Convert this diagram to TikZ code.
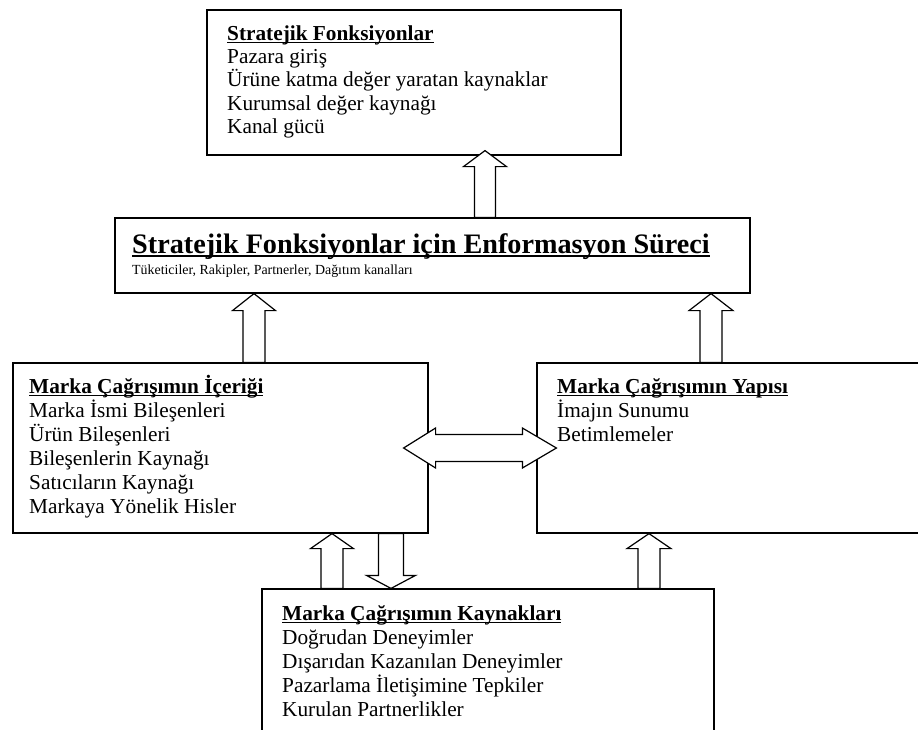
\documentclass[tikz,border=0pt]{standalone}
\usepackage{fontspec}
\setmainfont{Liberation Serif}
\usetikzlibrary{calc}
\newsavebox\ulbox
\newcommand\ulhead[3]{\sbox\ulbox{\textbf{#1}}\rlap{\rule[-#2]{\wd\ulbox}{#3}}\usebox\ulbox}
\newcommand\firstline{\rule{0pt}{20pt}}
\newcommand\blkup[5]{\draw[blk] ($(#2)+(-#3,0)$) -- ($(#1)+(-#3,#5)$) -- ($(#1)+(-#4,#5)$) -- (#1) -- ($(#1)+(#4,#5)$) -- ($(#1)+(#3,#5)$) -- ($(#2)+(#3,0)$) -- cycle;}
\newcommand\blkdown[5]{\draw[blk] ($(#2)+(-#3,0)$) -- ($(#1)+(-#3,-#5)$) -- ($(#1)+(-#4,-#5)$) -- (#1) -- ($(#1)+(#4,-#5)$) -- ($(#1)+(#3,-#5)$) -- ($(#2)+(#3,0)$) -- cycle;}
\begin{document}
\begin{tikzpicture}[x=1pt,y=-1pt,
  box/.style={draw, line width=1.2pt, fill=white, inner sep=0pt},
  blk/.style={draw, line width=1.2pt, fill=white, line join=miter},
  txt/.style={anchor=north west, inner sep=0pt, align=left, font=\fontsize{21.3}{24}\selectfont},
  line1/.style={anchor=base west, inner sep=0pt}]
\clip (0,0) rectangle (918,729);
\fill[white] (0,0) rectangle (918,729);
% boxes
\node[box, minimum width=414pt, minimum height=145pt] (topbox) at (414,82.5) {};
\node[box, minimum width=635pt, minimum height=75pt] (midbox) at (432.5,255.5) {};
\node[box, minimum width=415pt, minimum height=170pt] (lbox) at (220.5,448) {};
\node[box, minimum width=393pt, minimum height=170pt] (rbox) at (733.5,448) {};
\node[box, minimum width=452pt, minimum height=156pt] (botbox) at (488,667) {};
% arrow axes
\coordinate (ax1) at (485,0);
\coordinate (ax2) at (254,0);
\coordinate (ax3) at (711,0);
\coordinate (ax4) at (332,0);
\coordinate (ax5) at (391,0);
\coordinate (ax6) at (649,0);
\coordinate (t1) at ($(topbox.south -| ax1)+(0,-5)$);
\coordinate (b1) at (midbox.north -| ax1);
\coordinate (t2) at (midbox.south -| ax2);
\coordinate (b2) at (lbox.north -| ax2);
\coordinate (t3) at (midbox.south -| ax3);
\coordinate (b3) at (rbox.north -| ax3);
\coordinate (t4) at (lbox.south -| ax4);
\coordinate (b4) at (botbox.north -| ax4);
\coordinate (t5) at (botbox.north -| ax5);
\coordinate (b5) at (lbox.south -| ax5);
\coordinate (t6) at (rbox.south -| ax6);
\coordinate (b6) at (botbox.north -| ax6);
\coordinate (dl) at ($(lbox.east)+(-25,0)$);
\coordinate (dr) at ($(rbox.west)+(20,0)$);
% block arrows
\blkup{t1}{b1}{10.5}{21.5}{16}
\blkup{t2}{b2}{11}{21.5}{17}
\blkup{t3}{b3}{11}{22}{17}
\blkup{t4}{b4}{11}{21.5}{15}
\blkdown{t5}{b5}{12.5}{24.5}{13}
\blkup{t6}{b6}{11}{22}{15}
\draw[blk] (dl) -- ++(32,-20) -- ++(0,6.5) -- ($(dr)+(-34,-13.5)$) -- ++(0,-6.5) -- (dr) -- ++(-34,20) -- ++(0,-6.5) -- ($(dl)+(32,13.5)$) -- ++(0,6.5) -- cycle;
% texts
\node[txt, font=\fontsize{21.3}{23.3}\selectfont] (toptext) at (227,20) {\firstline\ulhead{Stratejik Fonksiyonlar}{3pt}{1.3pt}\\Pazara giriş\\Ürüne katma değer yaratan kaynaklar\\Kurumsal değer kaynağı\\Kanal gücü};
\node[line1, font=\fontsize{28.2}{31}\selectfont] (midtitle) at (132,253) {\ulhead{Stratejik Fonksiyonlar için Enformasyon Süreci}{4pt}{2pt}};
\node[line1, font=\fontsize{13.9}{16}\selectfont] (midsub) at (132,274) {Tüketiciler, Rakipler, Partnerler, Dağıtım kanalları};
\node[txt] (ltext) at (29,373) {\firstline\ulhead{Marka Çağrışımın İçeriği}{3pt}{1.3pt}\\Marka İsmi Bileşenleri\\Ürün Bileşenleri\\Bileşenlerin Kaynağı\\Satıcıların Kaynağı\\Markaya Yönelik Hisler};
\node[txt] (rtext) at (557,373) {\firstline\ulhead{Marka Çağrışımın Yapısı}{3pt}{1.3pt}\\İmajın Sunumu\\Betimlemeler};
\node[txt] (btext) at (282,600) {\firstline\ulhead{Marka Çağrışımın Kaynakları}{3pt}{1.3pt}\\Doğrudan Deneyimler\\Dışarıdan Kazanılan Deneyimler\\Pazarlama İletişimine Tepkiler\\Kurulan Partnerlikler};
\end{tikzpicture}
\end{document}
